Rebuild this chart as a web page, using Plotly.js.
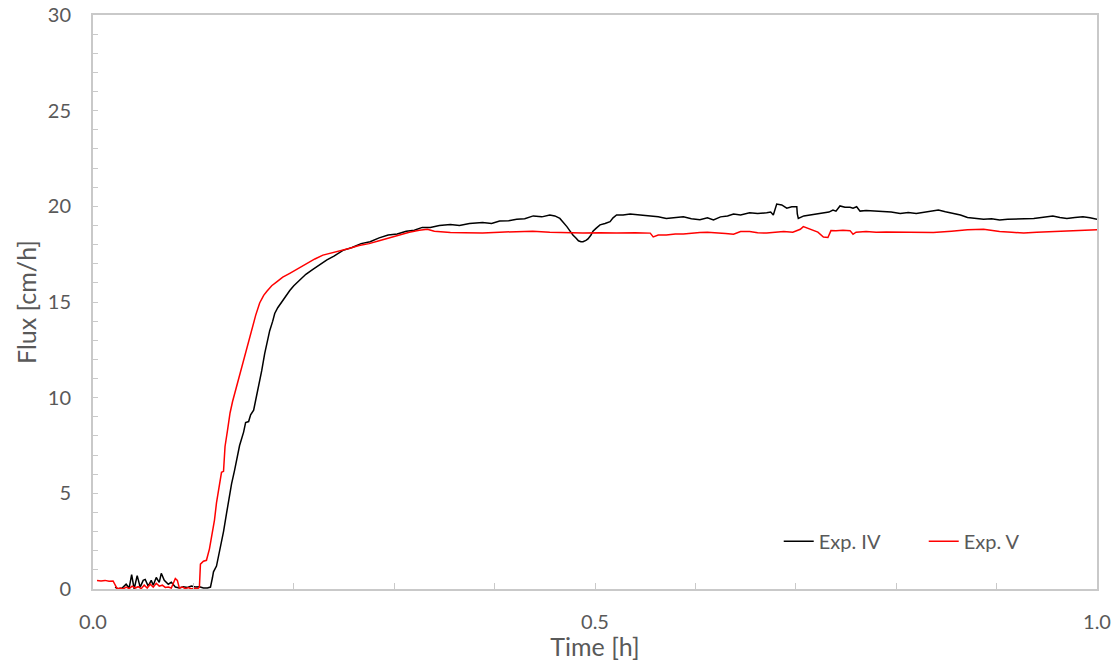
<!DOCTYPE html>
<html>
<head>
<meta charset="utf-8">
<script src="https://cdn.plot.ly/plotly-3.0.1.min.js"></script>
<style>html,body{margin:0;padding:0;background:#fff;}#chart{width:1115px;height:661px;}</style>
</head>
<body>
<div id="chart"></div>
<script>
const seriesNames = ["Exp. IV", "Exp. V"];

const timeExpIV = [0.022,0.025,0.029,0.033,0.036,0.0385,0.041,0.044,0.047,0.050,0.052,0.055,0.058,0.060,0.063,0.066,0.068,0.071,0.075,0.078,0.082,0.086,0.090,0.094,0.098,0.102,0.106,0.110,0.114,0.117,0.119,0.120,0.123,0.125,0.128,0.130,0.133,0.136,0.138,0.141,0.143,0.146,0.150,0.152,0.155,0.157,0.160,0.163,0.165,0.168,0.171,0.174,0.176,0.179,0.181,0.184,0.188,0.192,0.196,0.200,0.206,0.212,0.219,0.226,0.233,0.240,0.249,0.258,0.267,0.276,0.285,0.294,0.303,0.312,0.320,0.328,0.336,0.345,0.356,0.365,0.375,0.388,0.397,0.405,0.414,0.422,0.430,0.4385,0.447,0.455,0.460,0.465,0.469,0.472,0.475,0.478,0.481,0.4835,0.486,0.488,0.491,0.493,0.496,0.498,0.501,0.505,0.510,0.515,0.518,0.5215,0.528,0.535,0.545,0.555,0.563,0.571,0.579,0.588,0.596,0.6045,0.612,0.618,0.625,0.632,0.638,0.645,0.654,0.662,0.671,0.675,0.6776,0.679,0.681,0.686,0.691,0.696,0.701,0.7015,0.7025,0.708,0.714,0.720,0.7275,0.733,0.737,0.740,0.744,0.749,0.754,0.757,0.7606,0.764,0.770,0.778,0.787,0.795,0.804,0.812,0.820,0.828,0.835,0.842,0.849,0.857,0.864,0.871,0.879,0.887,0.895,0.903,0.911,0.920,0.928,0.937,0.946,0.956,0.963,0.970,0.978,0.986,0.993,1.0];
const fluxExpIV = [0.10,0.0,0.05,0.25,0.05,0.75,0.0,0.70,0.10,0.45,0.50,0.15,0.45,0.20,0.60,0.35,0.82,0.45,0.25,0.35,0.10,0.05,0.12,0.08,0.15,0.10,0.12,0.05,0.05,0.10,0.60,0.90,1.20,1.70,2.40,3.00,3.95,4.90,5.50,6.20,6.75,7.50,8.20,8.70,8.75,9.10,9.35,10.10,10.60,11.40,12.30,13.00,13.50,14.00,14.40,14.70,15.00,15.35,15.60,15.85,16.15,16.45,16.70,16.95,17.20,17.40,17.70,17.85,18.05,18.15,18.35,18.50,18.55,18.70,18.75,18.90,18.90,19.00,19.05,19.00,19.10,19.15,19.10,19.23,19.25,19.32,19.35,19.50,19.45,19.55,19.50,19.37,19.15,18.94,18.72,18.50,18.35,18.20,18.15,18.15,18.22,18.30,18.50,18.70,18.85,19.03,19.10,19.20,19.40,19.55,19.55,19.60,19.55,19.50,19.45,19.37,19.40,19.45,19.35,19.30,19.40,19.29,19.45,19.50,19.60,19.55,19.67,19.62,19.67,19.70,19.55,19.85,20.12,20.07,19.90,19.98,19.98,19.60,19.37,19.50,19.55,19.58,19.63,19.70,19.81,19.75,20.02,19.95,19.95,19.90,19.98,19.75,19.78,19.75,19.75,19.70,19.63,19.68,19.63,19.70,19.75,19.81,19.72,19.63,19.55,19.42,19.38,19.32,19.35,19.29,19.32,19.32,19.35,19.37,19.42,19.50,19.42,19.37,19.42,19.45,19.40,19.32];

const timeExpV = [0.004,0.008,0.012,0.016,0.020,0.022,0.024,0.027,0.030,0.033,0.036,0.039,0.042,0.045,0.048,0.051,0.054,0.057,0.060,0.063,0.066,0.069,0.072,0.075,0.078,0.080,0.082,0.084,0.086,0.089,0.092,0.095,0.098,0.101,0.104,0.106,0.107,0.110,0.113,0.116,0.118,0.121,0.123,0.126,0.128,0.130,0.1315,0.134,0.1365,0.139,0.143,0.146,0.150,0.154,0.158,0.162,0.166,0.170,0.173,0.178,0.183,0.189,0.196,0.204,0.213,0.221,0.229,0.237,0.246,0.255,0.265,0.275,0.285,0.295,0.305,0.315,0.325,0.333,0.340,0.348,0.356,0.370,0.388,0.405,0.422,0.438,0.455,0.470,0.488,0.505,0.5215,0.540,0.555,0.558,0.563,0.571,0.580,0.588,0.596,0.6045,0.612,0.621,0.630,0.638,0.645,0.654,0.662,0.671,0.680,0.688,0.697,0.7045,0.7075,0.712,0.717,0.722,0.7275,0.732,0.735,0.740,0.747,0.754,0.757,0.760,0.770,0.780,0.790,0.804,0.820,0.837,0.855,0.871,0.887,0.903,0.915,0.927,0.940,0.953,0.965,0.980,0.990,1.0];
const fluxExpV = [0.45,0.42,0.45,0.40,0.42,0.20,0.02,0.05,0.0,0.10,0.02,0.15,0.05,0.12,0.02,0.20,0.05,0.25,0.10,0.30,0.15,0.20,0.08,0.10,0.05,0.30,0.55,0.45,0.05,0.10,0.02,0.08,0.0,0.05,0.0,0.10,1.30,1.45,1.50,2.10,2.70,3.60,4.50,5.40,6.10,6.15,7.45,8.30,9.20,9.80,10.60,11.10,12.00,12.80,13.50,14.30,14.95,15.35,15.55,15.85,16.05,16.30,16.50,16.75,17.00,17.25,17.45,17.55,17.70,17.80,17.95,18.05,18.20,18.35,18.50,18.65,18.75,18.80,18.70,18.65,18.63,18.62,18.60,18.65,18.68,18.70,18.65,18.62,18.60,18.62,18.60,18.62,18.60,18.40,18.50,18.50,18.55,18.55,18.60,18.63,18.65,18.63,18.58,18.54,18.68,18.68,18.62,18.60,18.65,18.68,18.65,18.80,18.94,18.85,18.75,18.65,18.40,18.37,18.73,18.72,18.75,18.73,18.54,18.65,18.68,18.65,18.66,18.65,18.62,18.63,18.70,18.77,18.80,18.68,18.65,18.60,18.65,18.68,18.70,18.72,18.75,18.77];

const xTickVals = [0, 0.5, 1.0];
const xTickText = ["0.0", "0.5", "1.0"];
const yTickVals = [0, 5, 10, 15, 20, 25, 30];

const FONT = "Lato, Open Sans, sans-serif";
const GREY = "#595959";
const AXIS = "#c9c9c9";

const traces = [
  {x: timeExpIV, y: fluxExpIV, name: seriesNames[0], type: "scatter", mode: "lines",
   line: {color: "#000000", width: 1.5}},
  {x: timeExpV, y: fluxExpV, name: seriesNames[1], type: "scatter", mode: "lines",
   line: {color: "#ff0000", width: 1.5}}
];

const layout = {
  width: 1115, height: 661,
  margin: {l: 93, r: 18, t: 15, b: 72, pad: 0},
  paper_bgcolor: "#ffffff", plot_bgcolor: "#ffffff",
  font: {family: FONT, color: GREY, size: 20},
  showlegend: true,
  legend: {orientation: "h", x: 0.683, y: 0.083, xanchor: "left", yanchor: "middle",
           font: {family: FONT, size: 20, color: GREY}, bgcolor: "rgba(0,0,0,0)",
           entrywidth: 100, entrywidthmode: "pixels"},
  xaxis: {
    range: [0, 1], tickvals: xTickVals, ticktext: xTickText,
    showgrid: false, zeroline: false, showline: true, linecolor: AXIS, linewidth: 2, mirror: true,
    ticks: "inside", ticklen: 6, tickwidth: 1, tickcolor: AXIS,
    minor: {dtick: 0.1, ticks: "inside", ticklen: 6, tickwidth: 1, tickcolor: AXIS, showgrid: false},
    ticklabelstandoff: 14,
    tickfont: {family: FONT, size: 20, color: GREY},
    title: {text: "Time [h]", font: {family: FONT, size: 25, color: GREY}, standoff: 0}
  },
  yaxis: {
    range: [0, 30], tickvals: yTickVals,
    showgrid: false, zeroline: false, showline: true, linecolor: AXIS, linewidth: 2, mirror: true,
    ticks: "inside", ticklen: 5, tickwidth: 1, tickcolor: AXIS,
    minor: {dtick: 1, ticks: "inside", ticklen: 5, tickwidth: 1, tickcolor: AXIS, showgrid: false},
    ticklabelstandoff: 16,
    tickfont: {family: FONT, size: 20, color: GREY},
    title: {text: "Flux [cm/h]", font: {family: FONT, size: 25, color: GREY}, standoff: 4}
  }
};

Plotly.newPlot("chart", traces, layout, {displayModeBar: false, staticPlot: true});
</script>
</body>
</html>
